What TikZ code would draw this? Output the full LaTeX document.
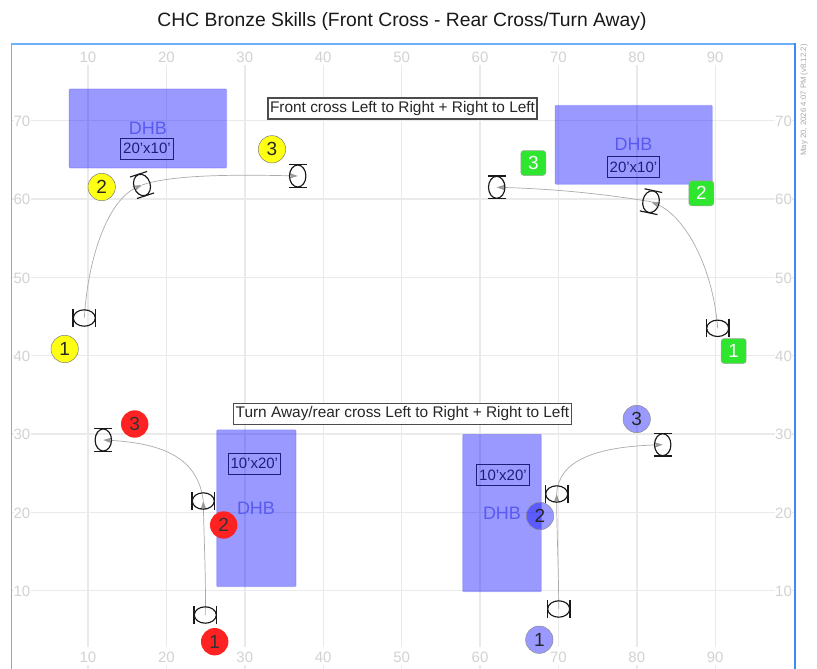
\documentclass[tikz,border=0pt]{standalone}
\usepackage{fontspec}
\setmainfont{Liberation Sans}
\usetikzlibrary{arrows.meta}
\definecolor{gridc}{HTML}{EAEAEA}
\definecolor{axisc}{HTML}{D2D2D2}
\definecolor{framec}{HTML}{6EB0F5}
\definecolor{framer}{HTML}{3A8EF0}
\definecolor{tinyc}{HTML}{A8A8A8}
\definecolor{pathc}{HTML}{ABABAB}
\definecolor{dhbtext}{HTML}{5A5AF0}
\definecolor{dimtext}{HTML}{1E1E78}
\definecolor{yellowb}{HTML}{FFFF14}
\definecolor{greenb}{HTML}{2EE62E}
\definecolor{redb}{HTML}{FF2222}
\tikzset{
  x=1pt,y=-1pt,
  gridline/.style={draw=gridc,line width=1.4pt},
  axislabel/.style={text=axisc,font=\fontsize{15}{17}\selectfont,inner sep=0pt},
  obstacle/.style={draw=blue,draw opacity=.18,fill=blue,fill opacity=.4,rounded corners=1pt,line width=.8pt},
  dhblabel/.style={text=dhbtext,font=\fontsize{18}{20}\selectfont,inner sep=0pt},
  dimbox/.style={draw=dimtext,line width=.9pt,text=dimtext,font=\fontsize{15}{17}\selectfont,inner sep=0pt,anchor=center},
  notebox/.style={draw=black!70,fill=white,line width=1.1pt,text=black!85,font=\fontsize{15.4}{17}\selectfont,inner sep=0pt},
  yellowbadge/.style={circle,draw=black!50,line width=.5pt,fill=yellowb,minimum size=27.4pt,inner sep=0pt,font=\fontsize{19}{21}\selectfont,text=black!85},
  greenbadge/.style={rectangle,rounded corners=3pt,draw=black!35,line width=.5pt,fill=greenb,minimum size=25pt,inner sep=0pt,font=\fontsize{19}{21}\selectfont,text=white},
  redbadge/.style={circle,fill=redb,minimum size=27.4pt,inner sep=0pt,font=\fontsize{19}{21}\selectfont,text=black!80},
  bluebadge/.style={circle,draw=black!45,line width=.5pt,fill=blue,fill opacity=.4,text opacity=1,minimum size=27.4pt,inner sep=0pt,font=\fontsize{19}{21}\selectfont,text=black!85},
  course/.style={draw=pathc,line width=.7pt},
  coursearrow/.style={course,-{Stealth[length=9pt,width=6pt,color=black!40]}},
  dancer/.pic={
    \draw[black!90,line width=1.15pt] (0,0) ellipse[x radius=8.2pt,y radius=11pt];
    \draw[black!90,line width=1.15pt] (-9,-11.3) -- (9,-11.3);
    \draw[black!90,line width=1.15pt] (-9,11.3) -- (9,11.3);
  }
}
\begin{document}
\begin{tikzpicture}
\useasboundingbox (0,0) rectangle (817,669);
\fill[white] (0,0) rectangle (817,669);

% grid
\foreach \u in {10,20,...,90}{
  \pgfmathsetmacro\gx{9.6+7.84*\u}
  \draw[gridline] (\gx,65) -- (\gx,647);
  \draw[gridline] (\gx,665) -- (\gx,669);
  \node[axislabel] at (\gx,57.5) {\u};
  \node[axislabel] at (\gx,657) {\u};
}
\foreach \v in {10,20,...,70}{
  \pgfmathsetmacro\gy{669-7.833*\v}
  \draw[gridline] (30.5,\gy) -- (775,\gy);
  \draw[gridline] (11,\gy) -- (14,\gy);
  \draw[gridline] (792,\gy) -- (795,\gy);
  \node[axislabel] at (22,\gy+.6) {\v};
  \node[axislabel] at (783.5,\gy+.6) {\v};
}

% frame
\draw[framec,line width=1.3pt] (11.3,669) -- (11.3,44) -- (795,44);
\draw[framer,line width=1.5pt] (795,43.4) -- (795,669);

% title and stamp
\node[inner sep=0pt,font=\fontsize{19.3}{22}\selectfont,text=black!90] (title) at (402,21.5) {CHC Bronze Skills (Front Cross - Rear Cross/Turn Away)};
\node[inner sep=0pt,rotate=90,text=tinyc,font=\fontsize{7.8}{9}\selectfont] (stamp) at (804,100) {May 20, 2026 4:07 PM (v8.12.2)};

% obstacles
\path[obstacle] (69,89) rectangle (226.7,168);
\path[obstacle] (555,105.3) rectangle (712.3,184.3);
\path[obstacle] (216.7,429.8) rectangle (296,586.7);
\path[obstacle] (462.7,434.3) rectangle (541.3,591.7);
\node[dhblabel] (dhbA) at (148,128) {DHB};
\node[dhblabel] (dhbB) at (633.5,144) {DHB};
\node[dhblabel] (dhbC) at (256,508) {DHB};
\node[dhblabel] (dhbD) at (502,513) {DHB};
\node[dimbox,minimum width=52.5pt,minimum height=21pt] (dimA) at (147,148.5) {20'x10'};
\node[dimbox,minimum width=52.5pt,minimum height=21pt] (dimB) at (633.5,167) {20'x10'};
\node[dimbox,minimum width=52.5pt,minimum height=21pt] (dimC) at (254.3,463.5) {10'x20'};
\node[dimbox,minimum width=52.5pt,minimum height=21pt] (dimD) at (503,475) {10'x20'};

% notes
\node[notebox,minimum width=269pt,minimum height=21pt] (noteA) at (402.5,108.5) {\raisebox{-.7pt}{Front cross Left to Right + Right to Left}};
\node[notebox,minimum width=338.5pt,minimum height=21pt] (noteB) at (402.4,413.8) {\raisebox{-.7pt}{Turn Away/rear cross Left to Right + Right to Left}};

% handler positions
\coordinate (a1) at (84.3,318);   \coordinate (a2) at (142,185);     \coordinate (a3) at (297.7,176);
\coordinate (b1) at (717.7,328.3);\coordinate (b2) at (651,201.7);   \coordinate (b3) at (496.7,187.3);
\coordinate (c1) at (205.3,615);  \coordinate (c2) at (203.3,501);   \coordinate (c3) at (103.3,440);
\coordinate (d1) at (558.7,609);  \coordinate (d2) at (556.7,494);   \coordinate (d3) at (662.7,444.7);

% courses
\draw[coursearrow] (a1) .. controls (88,257) and (108,200) .. (a2);
\draw[coursearrow] (a2) .. controls (168,176) and (220,174) .. (a3);
\draw[coursearrow] (b1) .. controls (713.3,270) and (686.7,216.7) .. (b2);
\draw[coursearrow] (b2) .. controls (620,196.7) and (570,189.3) .. (b3);
\draw[coursearrow] (c1) .. controls (206,576.7) and (204,540) .. (c2);
\draw[coursearrow] (c2) .. controls (198.3,460) and (166.7,443.3) .. (c3);
\draw[coursearrow] (d1) .. controls (558.7,570) and (556.7,530) .. (d2);
\draw[coursearrow] (d2) .. controls (558.3,460) and (596.7,446.7) .. (d3);

% handlers
\path (a1) pic[rotate=90] {dancer};
\path (a2) pic[rotate=18] {dancer};
\path (a3) pic {dancer};
\path (b1) pic[rotate=90] {dancer};
\path (b2) pic[rotate=-12] {dancer};
\path (b3) pic {dancer};
\path (c1) pic[rotate=90] {dancer};
\path (c2) pic[rotate=90] {dancer};
\path (c3) pic {dancer};
\path (d1) pic[rotate=90] {dancer};
\path (d2) pic[rotate=90] {dancer};
\path (d3) pic {dancer};

% badges
\node[yellowbadge] (ya) at (64.7,349) {1};
\node[yellowbadge] (yb) at (101.7,187) {2};
\node[yellowbadge] (yc) at (272,149.3) {3};
\node[greenbadge] (ga) at (733.7,351) {1};
\node[greenbadge] (gb) at (701.3,193.3) {2};
\node[greenbadge] (gc) at (533.3,163) {3};
\node[redbadge] (ra) at (214.7,641.7) {1};
\node[redbadge] (rb) at (223.7,525) {2};
\node[redbadge] (rc) at (134.7,424) {3};
\node[bluebadge] (pa) at (539.3,639.7) {1};
\node[bluebadge] (pb) at (540,516) {2};
\node[bluebadge] (pc) at (636.7,419) {3};
\end{tikzpicture}
\end{document}
